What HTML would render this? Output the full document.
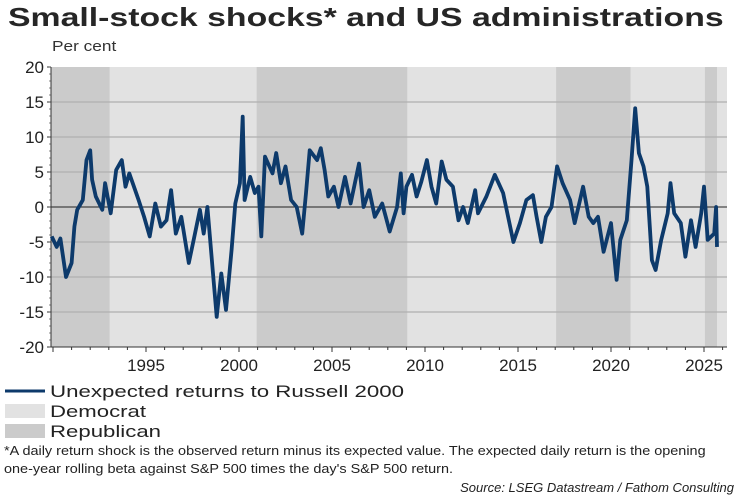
<!DOCTYPE html>
<html><head><meta charset="utf-8"><style>
body{margin:0;background:#fff;font-family:"Liberation Sans",Arial,sans-serif;}
#c{position:relative;width:750px;height:500px;overflow:hidden;}
.t{position:absolute;white-space:nowrap;color:#1a1a1a;transform-origin:0 0;}
</style></head><body>
<div id="c">
<div class="t" style="left:8px;top:2px;font-size:26px;font-weight:bold;color:#262626;transform:scaleX(1.3);">Small-stock shocks* and US administrations</div>
<div class="t" style="left:52px;top:38px;font-size:15px;color:#333;transform:scaleX(1.15);">Per cent</div>
<svg id="s" width="750" height="500" style="position:absolute;left:0;top:0"></svg>
<div class="t" style="left:4px;top:442px;font-size:13px;line-height:18px;color:#222;transform:scaleX(1.11);">*A daily return shock is the observed return minus its expected value. The expected daily return is the opening<br>one-year rolling beta against S&amp;P 500 times the day's S&amp;P 500 return.</div>
<div class="t" style="right:16px;top:480px;font-size:13px;font-style:italic;color:#222;">Source: LSEG Datastream / Fathom Consulting</div>
</div>
<script>
const years=[1989.93,1990.2,1990.4,1990.7,1991,1991.15,1991.3,1991.6,1991.8,1992.0,1992.1,1992.3,1992.65,1992.8,1993.1,1993.4,1993.7,1993.9,1994.1,1994.6,1994.9,1995.2,1995.5,1995.8,1996.1,1996.35,1996.6,1996.9,1997.3,1997.6,1997.9,1998.1,1998.3,1998.6,1998.8,1999.05,1999.3,1999.6,1999.8,2000.05,2000.2,2000.3,2000.6,2000.85,2001.05,2001.2,2001.4,2001.8,2002.0,2002.25,2002.5,2002.8,2003.1,2003.4,2003.6,2003.8,2004.2,2004.4,2004.6,2004.8,2005.1,2005.35,2005.7,2006.0,2006.45,2006.7,2007.0,2007.3,2007.7,2008.1,2008.5,2008.7,2008.85,2009.0,2009.3,2009.55,2009.8,2010.1,2010.35,2010.6,2010.9,2011.15,2011.5,2011.8,2012.05,2012.3,2012.7,2012.85,2013.3,2013.75,2014.2,2014.75,2015.1,2015.45,2015.8,2016.0,2016.25,2016.5,2016.8,2017.1,2017.4,2017.8,2018.05,2018.5,2018.8,2019.05,2019.3,2019.6,2020.0,2020.3,2020.5,2020.85,2021.1,2021.3,2021.5,2021.75,2021.95,2022.2,2022.4,2022.7,2023.05,2023.2,2023.4,2023.75,2024.0,2024.3,2024.55,2024.85,2025.0,2025.2,2025.55,2025.65,2025.7];
const values=[-4.2,-5.7,-4.5,-10,-8,-2.8,-0.4,1,6.7,8.1,3.9,1.5,-0.4,3.4,-0.9,5.3,6.7,2.9,4.8,1,-1.4,-4.2,0.5,-2.8,-1.9,2.4,-3.8,-1.4,-8,-4.2,-0.4,-3.8,0,-9.5,-15.7,-9.5,-14.7,-6.1,0.5,3.4,12.9,1,4.3,2,2.9,-4.2,7.2,4.8,7.7,3.4,5.8,1,0,-3.8,2,8.1,6.7,8.4,5.3,1.5,2.9,0,4.3,0.5,6.2,0,2.4,-1.4,0.5,-3.5,0,4.8,-0.9,2.9,4.6,1.5,3.6,6.7,2.9,0.5,6.5,3.9,2.9,-1.9,0,-2.3,2.4,-0.9,1.5,4.6,2,-5,-2.3,1,1.7,-1.4,-5,-1.4,0,5.8,3.4,1,-2.3,2.9,-1.4,-2.3,-1.4,-6.4,-2.3,-10.4,-4.7,-1.9,6.7,14.1,7.7,5.8,2.9,-7.6,-9,-4.7,-0.9,3.4,-0.9,-2.3,-7.1,-1.9,-5.7,-0.9,2.9,-4.7,-3.8,0,-5.7];
const periods=[[1989.9,1993.05,'R'],[1993.05,2000.95,'D'],[2000.95,2009.05,'R'],[2009.05,2017.05,'D'],[2017.05,2021.05,'R'],[2021.05,2025.05,'D'],[2025.05,2025.7,'R']];
const yTicks=[20,15,10,5,0,-5,-10,-15,-20];
const xTicks=[1995,2000,2005,2010,2015,2020,2025];
const NS='http://www.w3.org/2000/svg';
const svg=document.getElementById('s');
const L=51,R=727,T=67,B=347;
const X=y=>239+(y-2000)*18.6;
const Y=v=>207-v*7;
function mk(tag,at){const e=document.createElementNS(NS,tag);for(const k in at)e.setAttribute(k,at[k]);svg.appendChild(e);return e;}
let e=mk('rect',{x:L,y:T,width:R-L,height:B-T,fill:'#e2e2e2'});


periods.forEach(p=>{const r=mk('rect',{x:Math.max(L,X(p[0])),y:T,width:X(p[1])-Math.max(L,X(p[0])),height:B-T,fill:p[2]=='R'?'#cbcbcb':'#e2e2e2'});

});
yTicks.forEach(v=>{
 if(v!==20&&v!==-20&&v!==0){const g=mk('line',{x1:L,x2:R,y1:Y(v),y2:Y(v),stroke:'#b0b0b0','stroke-width':1.2});
 
 }
 const t=mk('text',{x:44,y:Y(v)+6,'text-anchor':'end','font-size':17,fill:'#222','font-family':'Liberation Sans, sans-serif'});
 t.textContent=v;
 
 
 mk('line',{x1:L-4,x2:L,y1:Y(v),y2:Y(v),stroke:'#333'});
});
for(let v=-20;v<=20;v++){mk('line',{x1:L-2,x2:L,y1:Y(v),y2:Y(v),stroke:'#555','stroke-width':0.7});}
e=mk('line',{x1:L,x2:R,y1:Y(0),y2:Y(0),stroke:'#222','stroke-width':1});


mk('line',{x1:L,x2:L,y1:T,y2:B,stroke:'#333'});
mk('line',{x1:L,x2:R,y1:B,y2:B,stroke:'#333'});
for(let y=1990;y<=2026;y++){mk('line',{x1:X(y),x2:X(y),y1:B,y2:B+(y%5==0?5:3),stroke:'#333'});}
xTicks.forEach(y=>{const t=mk('text',{x:X(y),y:371,'text-anchor':'middle','font-size':17,fill:'#222','font-family':'Liberation Sans, sans-serif'});
t.textContent=y;

});
let d=years.map((y,i)=>(i?'L':'M')+X(y).toFixed(1)+','+Y(values[i]).toFixed(1)).join('');
e=mk('path',{d:d,fill:'none',stroke:'#0d3a6b','stroke-width':3.8,'stroke-linejoin':'round'});


// legend
e=mk('line',{x1:5,x2:45,y1:391,y2:391,stroke:'#0d3a6b','stroke-width':3});


e=mk('rect',{x:5,y:404,width:40,height:14,fill:'#e2e2e2'});


e=mk('rect',{x:5,y:424,width:40,height:14,fill:'#cbcbcb'});


[['Unexpected returns to Russell 2000',397,354],['Democrat',417,96],['Republican',437,111]].forEach(a=>{
 const t=mk('text',{x:50,y:a[1],'font-size':17,fill:'#222','font-family':'Liberation Sans, sans-serif',textLength:a[2],lengthAdjust:'spacingAndGlyphs'});
 t.textContent=a[0];
 
 });
</script>
</body></html>
